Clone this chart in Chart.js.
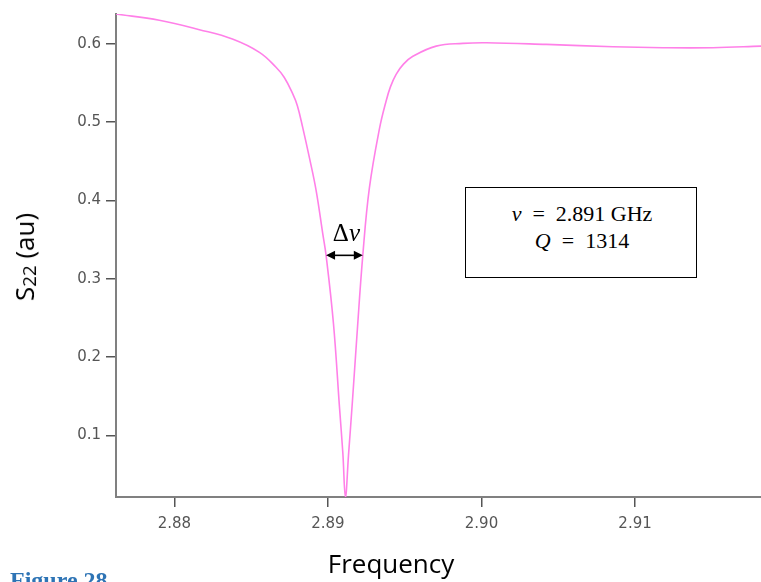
<!DOCTYPE html>
<html>
<head>
<meta charset="utf-8">
<script src="https://cdn.jsdelivr.net/npm/chart.js@4/dist/chart.umd.min.js"></script>
<style>
  html, body { margin: 0; padding: 0; background: #fff; }
  #wrap { position: relative; width: 761px; height: 582px; overflow: hidden; background: #fff; }
  #chart { position: absolute; left: 0; top: 0; }
  .ytitle {
    position: absolute; left: 25px; top: 257px;
    transform: translate(-50%, -50%) rotate(-90deg);
    font-family: "Open Sans", sans-serif; font-size: 26px; line-height: 1; white-space: nowrap; color: #000;
  }
  .ytitle sub { font-size: 0.72em; vertical-align: -0.12em; }
  .xtitle {
    position: absolute; left: 391px; top: 545px; transform: translateX(-50%);
    font-family: "Open Sans", sans-serif; font-size: 26px; line-height: 36px; white-space: nowrap; color: #000;
  }
  .infobox {
    position: absolute; left: 465px; top: 187px; width: 230px; height: 89px;
    border: 1px solid #000; background: #fff; box-sizing: content-box;
    font-family: "Liberation Serif", serif; font-size: 22px; line-height: 27px;
    text-align: center; color: #000;
  }
  .infobox .inner { padding-top: 12px; padding-left: 2px; }
  .infobox .eq { margin: 0 0.5em; }
  .caption {
    position: absolute; left: 10px; top: 568px;
    font-family: "Liberation Serif", serif; font-weight: bold; font-size: 24px; line-height: 24px;
    color: #2e74b5; white-space: nowrap;
  }
</style>
</head>
<body>
<div id="wrap">
  <canvas id="chart" width="761" height="582"></canvas>
  <div class="ytitle">S<sub>22</sub> (au)</div>
  <div class="xtitle">Frequency</div>
  <div class="infobox"><div class="inner"><i>ν</i><span class="eq">=</span>2.891 GHz<br><i>Q</i><span class="eq">=</span>1314</div></div>
  <div class="caption">Figure 28</div>
</div>
<script>
const freq = [2.8762, 2.87902, 2.88163, 2.88378, 2.88554, 2.88662, 2.88716, 2.88771, 2.88801, 2.88836,
  2.88879, 2.88923, 2.88966, 2.88988, 2.89036, 2.89075, 2.89097, 2.89114, 2.89134, 2.8916,
  2.89189, 2.89227, 2.8927, 2.89336, 2.89379, 2.89407, 2.89444, 2.89492, 2.89553, 2.89705,
  2.89879, 2.90031, 2.90422, 2.90856, 2.91181, 2.91507, 2.9182];
const s22 = [0.638, 0.630, 0.618, 0.606, 0.589, 0.570, 0.557, 0.536, 0.521, 0.493,
  0.455, 0.413, 0.358, 0.330, 0.243, 0.137, 0.078, 0.022, 0.075, 0.145,
  0.228, 0.330, 0.416, 0.492, 0.527, 0.545, 0.561, 0.574, 0.584, 0.597,
  0.6005, 0.6013, 0.5992, 0.5962, 0.595, 0.595, 0.597];
const xTicks = [2.88, 2.89, 2.90, 2.91];
const yTicks = [0.1, 0.2, 0.3, 0.4, 0.5, 0.6];
// linewidth marker (delta nu)
const deltaFrom = 2.88988;
const deltaTo = 2.89227;
const deltaLevel = 0.33;

const deltaNuPlugin = {
  id: 'deltaNu',
  afterDatasetsDraw(chart) {
    const { ctx, scales: { x, y } } = chart;
    const x1 = x.getPixelForValue(deltaFrom);
    const x2 = x.getPixelForValue(deltaTo);
    const yy = y.getPixelForValue(deltaLevel);
    const head = 9, half = 4.5;
    ctx.save();
    ctx.strokeStyle = '#000';
    ctx.fillStyle = '#000';
    ctx.lineWidth = 1.6;
    ctx.beginPath();
    ctx.moveTo(x1 + head - 1, yy);
    ctx.lineTo(x2 - head + 1, yy);
    ctx.stroke();
    ctx.beginPath();
    ctx.moveTo(x1, yy); ctx.lineTo(x1 + head, yy - half); ctx.lineTo(x1 + head, yy + half);
    ctx.closePath(); ctx.fill();
    ctx.beginPath();
    ctx.moveTo(x2, yy); ctx.lineTo(x2 - head, yy - half); ctx.lineTo(x2 - head, yy + half);
    ctx.closePath(); ctx.fill();
    // label
    ctx.textBaseline = 'alphabetic';
    ctx.textAlign = 'left';
    ctx.font = '25px "Liberation Serif"';
    const wD = ctx.measureText('Δ').width;
    ctx.font = 'italic 25px "Liberation Serif"';
    const wN = ctx.measureText('ν').width;
    const start = (x1 + x2) / 2 + 2 - (wD + wN) / 2;
    ctx.font = '25px "Liberation Serif"';
    ctx.fillText('Δ', start, yy - 14);
    ctx.font = 'italic 25px "Liberation Serif"';
    ctx.fillText('ν', start + wD, yy - 14);
    ctx.restore();
  }
};

const ctx = document.getElementById('chart');
const chart = new Chart(ctx, {
  type: 'line',
  data: {
    datasets: [{
      data: freq.map((f, i) => ({ x: f, y: s22[i] })),
      borderColor: '#ff80e8',
      borderWidth: 1.6,
      pointRadius: 0,
      fill: false,
      tension: 0.4
    }]
  },
  options: {
    responsive: false,
    animation: false,
    devicePixelRatio: 1,
    layout: { padding: { top: 13, left: 0, right: 0, bottom: 0 } },
    plugins: { legend: { display: false }, tooltip: { enabled: false } },
    scales: {
      x: {
        type: 'linear',
        min: 2.8762,
        max: 2.9182,
        afterBuildTicks: (scale) => { scale.ticks = xTicks.map(v => ({ value: v })); },
        afterFit: (scale) => { scale.height = 85; },
        ticks: {
          callback: (v) => v.toFixed(2),
          color: '#555',
          font: { family: 'DejaVu Sans', size: 15 },
          padding: 8,
          maxRotation: 0
        },
        grid: { drawOnChartArea: false, drawTicks: true, tickLength: 10, color: '#555', lineWidth: 1.5 },
        border: { display: true, color: '#808080', width: 2 }
      },
      y: {
        min: 0.0216,
        max: 0.638,
        afterBuildTicks: (scale) => { scale.ticks = yTicks.map(v => ({ value: v })); },
        afterFit: (scale) => { scale.width = 116; },
        ticks: {
          callback: (v) => v.toFixed(1),
          color: '#555',
          font: { family: 'DejaVu Sans', size: 15 },
          padding: 5
        },
        grid: { drawOnChartArea: false, drawTicks: true, tickLength: 10, color: '#555', lineWidth: 1.5 },
        border: { display: true, color: '#808080', width: 2 }
      }
    }
  },
  plugins: [deltaNuPlugin]
});
</script>
</body>
</html>
